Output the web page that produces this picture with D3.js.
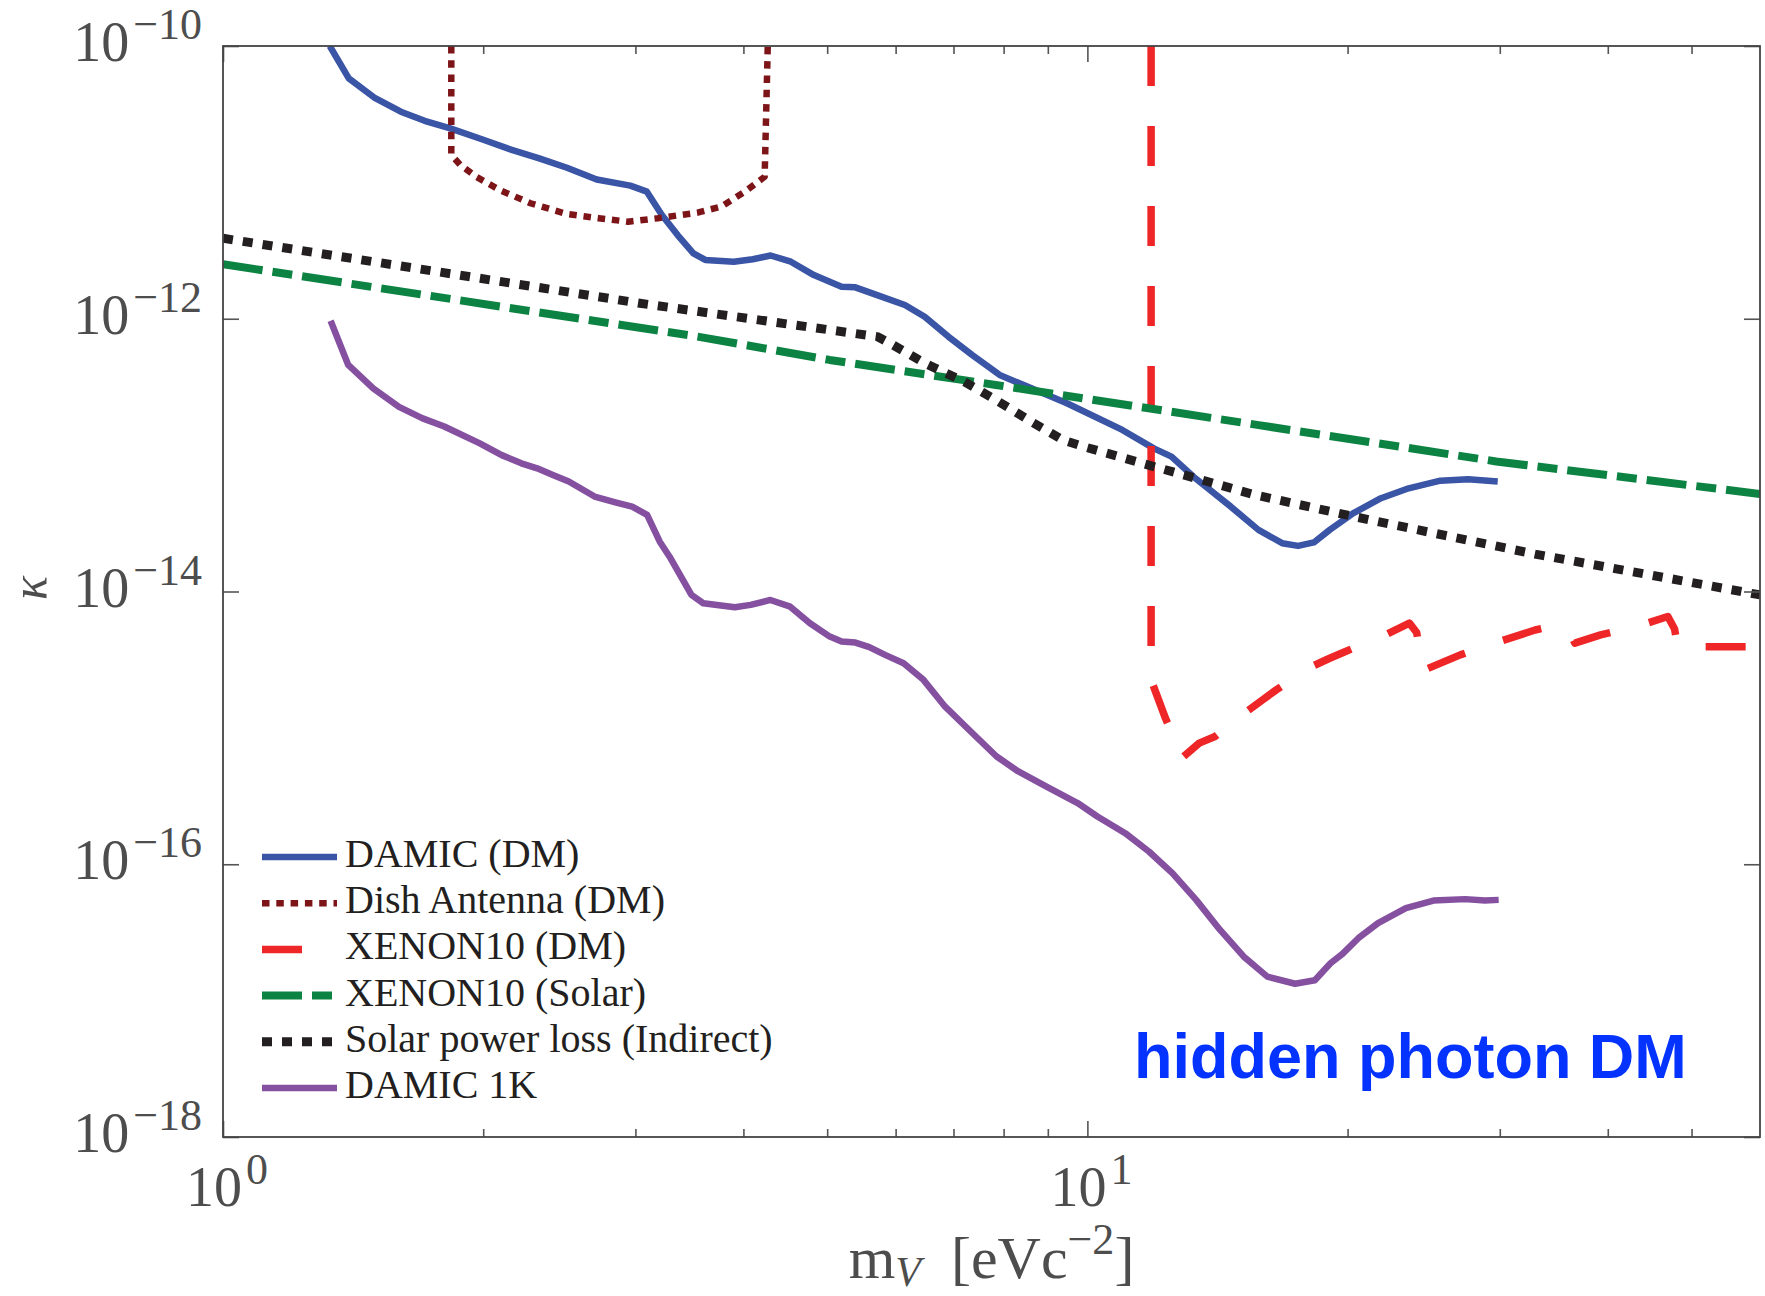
<!DOCTYPE html>
<html>
<head>
<meta charset="utf-8">
<script src="https://cdn.jsdelivr.net/npm/d3@7"></script>
<style>
  html, body { margin: 0; padding: 0; background: #fff; }
  svg { display: block; }
</style>
</head>
<body>
<svg id="chart" width="1765" height="1296"></svg>
<script>
// ---------------- DATA ----------------
const seriesNames = ["DAMIC (DM)", "Dish Antenna (DM)", "XENON10 (DM)", "XENON10 (Solar)", "Solar power loss (Indirect)", "DAMIC 1K"];

const damicDM_mass = [1.329,1.398,1.500,1.606,1.711,1.832,1.993,2.158,2.322,2.500,2.706,2.959,3.093,3.219,3.357,3.501,3.614,3.899,4.101,4.300,4.539,4.826,5.195,5.390,5.712,6.150,6.483,6.904,7.354,7.916,8.521,9.469,10.975,11.937,12.511,13.265,14.654,15.772,16.801,17.529,18.281,19.069,20.310,21.862,23.534,25.605,27.564,29.835];
const damicDM_kappa = [1.00e-10,5.79e-11,4.14e-11,3.30e-11,2.83e-11,2.49e-11,2.07e-11,1.73e-11,1.50e-11,1.28e-11,1.05e-11,9.46e-12,8.55e-12,5.77e-12,4.11e-12,3.02e-12,2.70e-12,2.62e-12,2.73e-12,2.91e-12,2.62e-12,2.09e-12,1.72e-12,1.70e-12,1.49e-12,1.26e-12,1.035e-12,7.40e-13,5.43e-13,3.87e-13,3.18e-13,2.40e-13,1.53e-13,1.12e-13,9.75e-14,6.95e-14,4.19e-14,2.83e-14,2.26e-14,2.16e-14,2.29e-14,2.83e-14,3.75e-14,4.83e-14,5.71e-14,6.50e-14,6.65e-14,6.40e-14];

const dish_mass = [1.837,1.837,1.882,1.963,2.090,2.268,2.500,2.720,2.943,3.185,3.540,3.771,4.017,4.233,4.268];
const dish_kappa = [1e-10,1.59e-11,1.34e-11,1.10e-11,8.79e-12,7.03e-12,5.86e-12,5.46e-12,5.15e-12,5.46e-12,6.00e-12,6.64e-12,8.55e-12,1.10e-11,1e-10];

const xenonDM_mass = [11.85,11.85,12.31,12.87,13.47,14.05,15.29,15.94,16.54,18.18,19.07,19.89,22.11,23.58,24.04,24.44,27.00,29.99,32.96,35.08,36.14,36.64,39.24,43.82,46.94,47.79,48.19,60];
const xenonDM_kappa = [1e-10,2.25e-15,1.18e-15,6.03e-16,7.73e-16,8.65e-16,1.32e-15,1.60e-15,1.90e-15,2.82e-15,3.24e-15,3.63e-15,4.81e-15,5.86e-15,5.01e-15,2.63e-15,3.43e-15,4.30e-15,5.22e-15,5.69e-15,5.01e-15,4.18e-15,4.81e-15,5.69e-15,6.56e-15,5.30e-15,3.94e-15,3.94e-15];

const xenonSolar_mass = [1,3.540,5.033,7.834,15.78,29.72,60];
const xenonSolar_kappa = [2.51e-12,7.40e-13,4.99e-13,3.27e-13,1.66e-13,8.99e-14,5.19e-14];

const solarLoss_mass = [1,3.035,5.712,5.957,6.483,7.202,7.834,8.612,9.372,9.922,11.57,13.48,15.62,20.31,32.96,60];
const solarLoss_kappa = [3.89e-12,1.30e-12,7.40e-13,6.43e-13,4.72e-13,3.46e-13,2.54e-13,1.76e-13,1.29e-13,1.15e-13,8.71e-14,6.65e-14,5.11e-14,3.55e-14,1.88e-14,9.44e-15];

const damic1K_mass = [1.332,1.396,1.492,1.598,1.702,1.803,1.982,2.101,2.214,2.309,2.408,2.512,2.691,2.851,2.974,3.095,3.201,3.286,3.483,3.594,3.910,4.078,4.298,4.531,4.776,5.035,5.196,5.391,5.594,5.834,6.129,6.462,6.846,7.329,7.852,8.320,8.957,9.743,10.27,11.06,11.78,12.54,13.36,14.24,15.16,16.15,17.39,18.33,19.11,19.73,20.58,21.69,23.36,25.14,27.35,28.83,29.91];
const damic1K_kappa = [9.68e-13,4.58e-13,3.09e-13,2.26e-13,1.86e-13,1.62e-13,1.22e-13,1.00e-13,8.71e-14,8.00e-14,7.16e-14,6.40e-14,4.97e-14,4.49e-14,4.19e-14,3.65e-14,2.32e-14,1.80e-14,9.44e-15,8.20e-15,7.67e-15,7.98e-15,8.67e-15,7.74e-15,5.85e-15,4.67e-15,4.30e-15,4.22e-15,3.91e-15,3.43e-15,2.98e-15,2.25e-15,1.43e-15,9.40e-16,6.17e-16,4.79e-16,3.72e-16,2.81e-16,2.24e-16,1.69e-16,1.24e-16,8.61e-17,5.48e-17,3.30e-17,2.11e-17,1.50e-17,1.33e-17,1.41e-17,1.88e-17,2.20e-17,2.87e-17,3.70e-17,4.76e-17,5.42e-17,5.55e-17,5.42e-17,5.48e-17];

const xMajorTicks = [1, 10];
const xMajorExponents = ["0", "1"];
const xMinorTicks = [2,3,4,5,6,7,8,9,20,30,40,50];
const yMajorTicks = [1e-18, 1e-16, 1e-14, 1e-12, 1e-10];
const yMajorExponents = ["\u221218", "\u221216", "\u221214", "\u221212", "\u221210"];
const annotationText = "hidden photon DM";

// ---------------- STYLES ----------------
const styles = [
  { color: "#3a54a6", width: 6.5, dash: null },
  { color: "#7d1518", width: 6.5, dash: "7.5,6.8" },
  { color: "#ee2628", width: 7.5, dash: "40,40" },
  { color: "#0d8343", width: 8, dash: "40,10,20,10" },
  { color: "#231f20", width: 9, dash: "10,10" },
  { color: "#8550a0", width: 6.5, dash: null }
];
const seriesData = [
  [damicDM_mass, damicDM_kappa],
  [dish_mass, dish_kappa],
  [xenonDM_mass, xenonDM_kappa],
  [xenonSolar_mass, xenonSolar_kappa],
  [solarLoss_mass, solarLoss_kappa],
  [damic1K_mass, damic1K_kappa]
];

// ---------------- LAYOUT ----------------
const L = 223, R = 1760, T = 46, B = 1137;
const svg = d3.select("#chart");
svg.append("rect").attr("width", 1765).attr("height", 1296).attr("fill", "#fff");

const x = d3.scaleLog().domain([1, 60]).range([L, R]);
const y = d3.scaleLog().domain([1e-18, 1e-10]).range([B, T]);

svg.append("defs").append("clipPath").attr("id", "plotclip")
  .append("rect").attr("x", L).attr("y", T).attr("width", R - L).attr("height", B - T);

// ---------------- LINES ----------------
const line = d3.line().x(d => x(d[0])).y(d => y(d[1]));
const gLines = svg.append("g").attr("clip-path", "url(#plotclip)");
seriesData.forEach((s, i) => {
  const pts = s[0].map((m, j) => [m, s[1][j]]);
  gLines.append("path")
    .attr("d", line(pts))
    .attr("fill", "none")
    .attr("stroke", styles[i].color)
    .attr("stroke-width", styles[i].width)
    .attr("stroke-dasharray", styles[i].dash)
    .attr("stroke-linejoin", "round")
    .attr("stroke-linecap", "butt");
});

// ---------------- AXES ----------------
const tickColor = "#555";
function styleAxis(g) {
  g.select(".domain").remove();
  g.selectAll(".tick line").attr("stroke", tickColor).attr("stroke-width", 1.6);
  g.selectAll(".tick text").remove();
}
svg.append("g").attr("transform", `translate(0,${B})`)
  .call(d3.axisBottom(x).tickValues(xMajorTicks).tickSize(-16).tickFormat("")).call(styleAxis);
svg.append("g").attr("transform", `translate(0,${B})`)
  .call(d3.axisBottom(x).tickValues(xMinorTicks).tickSize(-8).tickFormat("")).call(styleAxis);
svg.append("g").attr("transform", `translate(0,${T})`)
  .call(d3.axisTop(x).tickValues(xMajorTicks).tickSize(-16).tickFormat("")).call(styleAxis);
svg.append("g").attr("transform", `translate(0,${T})`)
  .call(d3.axisTop(x).tickValues(xMinorTicks).tickSize(-8).tickFormat("")).call(styleAxis);
svg.append("g").attr("transform", `translate(${L},0)`)
  .call(d3.axisLeft(y).tickValues(yMajorTicks).tickSize(-16).tickFormat("")).call(styleAxis);
svg.append("g").attr("transform", `translate(${R},0)`)
  .call(d3.axisRight(y).tickValues(yMajorTicks).tickSize(-16).tickFormat("")).call(styleAxis);

// frame
svg.append("rect").attr("x", L).attr("y", T).attr("width", R - L).attr("height", B - T)
  .attr("fill", "none").attr("stroke", "#444").attr("stroke-width", 1.8);

// tick labels
const labelFont = "'Liberation Serif', 'DejaVu Serif', serif";
const labelColor = "#4d4d4d";
yMajorTicks.forEach((v, i) => {
  const t = svg.append("text")
    .attr("x", 202).attr("y", y(v) + 15)
    .attr("text-anchor", "end")
    .attr("font-family", labelFont).attr("fill", labelColor)
    .attr("font-size", 56);
  t.append("tspan").text("10");
  t.append("tspan").attr("font-size", 44).attr("dy", -22).attr("dx", 4).text(yMajorExponents[i]);
});
xMajorTicks.forEach((v, i) => {
  const t = svg.append("text")
    .attr("x", x(v) + 4).attr("y", 1206)
    .attr("text-anchor", "middle")
    .attr("font-family", labelFont).attr("fill", labelColor)
    .attr("font-size", 56);
  t.append("tspan").text("10");
  t.append("tspan").attr("font-size", 44).attr("dy", -22).attr("dx", 4).text(xMajorExponents[i]);
});

// axis labels
const xl = svg.append("text")
  .attr("x", (L + R) / 2).attr("y", 1278)
  .attr("text-anchor", "middle")
  .attr("font-family", labelFont).attr("fill", labelColor)
  .attr("font-size", 60);
xl.append("tspan").text("m");
xl.append("tspan").attr("font-style", "italic").attr("font-size", 42).attr("dy", 8).text("V");
xl.append("tspan").attr("dy", -8).text("\u2002[eVc");
xl.append("tspan").attr("font-size", 44).attr("dy", -24).text("\u22122");
xl.append("tspan").attr("dy", 24).text("]");

svg.append("text")
  .attr("transform", "translate(46,588) rotate(-90)")
  .attr("text-anchor", "middle")
  .attr("font-family", labelFont).attr("font-style", "italic")
  .attr("fill", labelColor).attr("font-size", 50)
  .text("\u03BA");

// ---------------- LEGEND ----------------
const legX0 = 262, legX1 = 337, legTextX = 345, legY0 = 857, legDy = 46.2;
const gLeg = svg.append("g");
seriesNames.forEach((name, i) => {
  const yy = legY0 + i * legDy;
  gLeg.append("path")
    .attr("d", d3.line()([[legX0, yy], [legX1, yy]]))
    .attr("stroke", styles[i].color)
    .attr("stroke-width", styles[i].width)
    .attr("stroke-dasharray", styles[i].dash)
    .attr("fill", "none");
  gLeg.append("text")
    .attr("x", legTextX).attr("y", yy + 10)
    .attr("font-family", labelFont).attr("font-size", 40)
    .attr("fill", "#231f20")
    .text(name);
});

// ---------------- ANNOTATION ----------------
svg.append("text")
  .attr("x", 1134).attr("y", 1078)
  .attr("font-family", "'Liberation Sans', Arial, sans-serif")
  .attr("font-weight", "bold").attr("font-size", 63)
  .attr("fill", "#0433ff")
  .text(annotationText);
</script>
</body>
</html>
